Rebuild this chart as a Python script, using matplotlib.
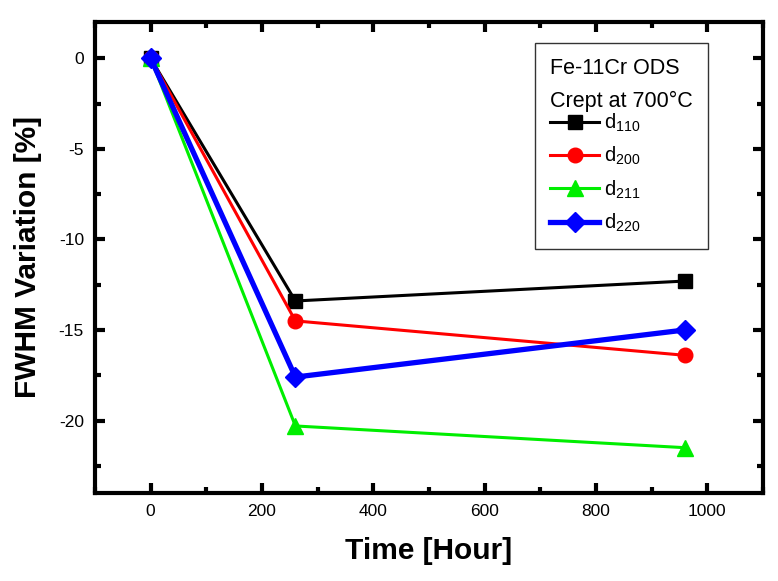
import matplotlib
matplotlib.use("Agg")
import matplotlib.pyplot as plt
from matplotlib.ticker import MultipleLocator

plt.rcParams['font.family'] = ['Liberation Sans', 'DejaVu Sans']
plt.rcParams['mathtext.default'] = 'regular'
plt.rcParams['axes.unicode_minus'] = False

time_hours = [0, 260, 960]
d110 = [0, -13.4, -12.3]
d200 = [0, -14.5, -16.4]
d211 = [0, -20.3, -21.5]
d220 = [0, -17.6, -15.0]
series_labels = ["d$_{110}$", "d$_{200}$", "d$_{211}$", "d$_{220}$"]
legend_title = "Fe-11Cr ODS\nCrept at 700°C"

fig = plt.figure(figsize=(7.78, 5.81), dpi=100)
ax = fig.add_axes([0.1221, 0.1515, 0.8586, 0.8106])

ax.plot(time_hours, d110, color='black', lw=2.2, marker='s', ms=10, label=series_labels[0])
ax.plot(time_hours, d200, color='red', lw=2.2, marker='o', ms=10.5, label=series_labels[1])
ax.plot(time_hours, d211, color='#00ee00', lw=2.2, marker='^', ms=11, label=series_labels[2])
ax.plot(time_hours, d220, color='blue', lw=3.8, marker='D', ms=10, label=series_labels[3])

ax.set_xlim(-100, 1100)
ax.set_ylim(-24, 2)
ax.xaxis.set_major_locator(MultipleLocator(200))
ax.xaxis.set_minor_locator(MultipleLocator(100))
ax.yaxis.set_major_locator(MultipleLocator(5))
ax.yaxis.set_minor_locator(MultipleLocator(2.5))
ax.tick_params(which='both', direction='in', top=True, right=True, width=3, labelsize=12.5, pad=8)
ax.tick_params(which='major', length=7)
ax.tick_params(which='minor', length=4)
for s in ax.spines.values():
    s.set_linewidth(3)

ax.set_xlabel("Time [Hour]", fontsize=21.5, fontweight='bold', labelpad=13)
ax.set_ylabel("FWHM Variation [%]", fontsize=21.5, fontweight='bold', labelpad=12)

leg = ax.legend(title=legend_title, loc='upper right', bbox_to_anchor=(0.918, 0.955),
                borderaxespad=0, alignment='left',
                fontsize=14.5, title_fontsize=15.5, frameon=True, fancybox=False,
                edgecolor='black', handlelength=2.4, handletextpad=0.25,
                labelspacing=0.55, borderpad=0.75)
leg.get_frame().set_linewidth(1)
leg.get_title().set_multialignment('left')
leg.get_title().set_linespacing(1.7)
leg._legend_box.sep = 0

fig.savefig("out.png", dpi=100)
